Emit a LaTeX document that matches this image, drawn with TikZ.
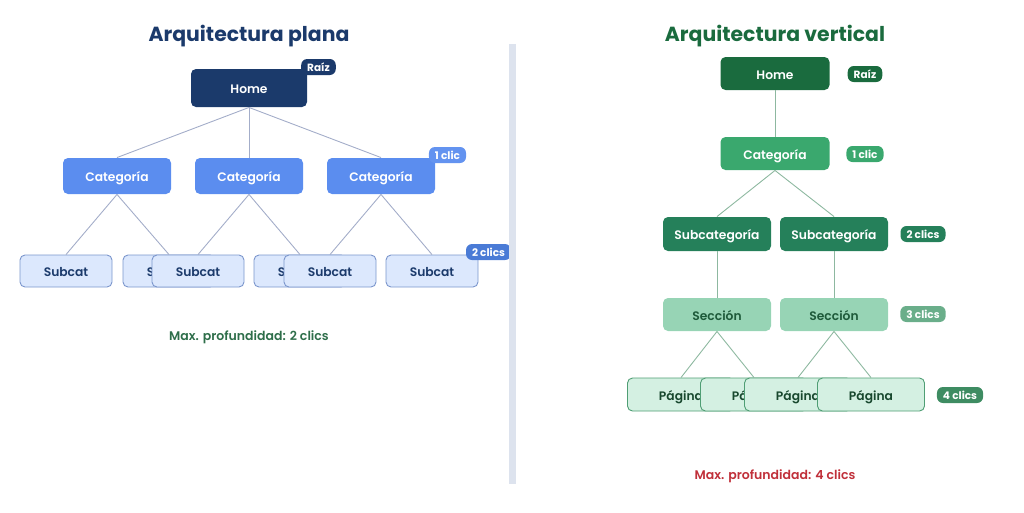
\documentclass[tikz,border=0pt]{standalone}
\usepackage{fontspec}
\setmainfont{Poppins}
\newfontfamily\medfont{Poppins SemiBold}
\usetikzlibrary{positioning}

\definecolor{navy}{HTML}{1B3A6B}
\definecolor{catblue}{HTML}{5B8DEF}
\definecolor{subblue}{HTML}{DCE8FD}
\definecolor{subline}{HTML}{7B96CC}
\definecolor{badgeblue}{HTML}{4A7BD6}
\definecolor{edgeblue}{HTML}{A3ADC9}
\definecolor{homegreen}{HTML}{1A6B3E}
\definecolor{catgreen}{HTML}{3AA86E}
\definecolor{subgreen}{HTML}{25805A}
\definecolor{secgreen}{HTML}{97D4B5}
\definecolor{sectext}{HTML}{1E5A3A}
\definecolor{secbadge}{HTML}{6AAE8A}
\definecolor{paggreen}{HTML}{D4F0E2}
\definecolor{pagline}{HTML}{4F9E74}
\definecolor{pagbadge}{HTML}{3E8C62}
\definecolor{edgegreen}{HTML}{8DB8A0}
\definecolor{notegreen}{HTML}{2E6E4A}
\definecolor{notered}{HTML}{C0303A}
\definecolor{divider}{HTML}{DDE3EE}

\tikzset{
    box/.style={rounded corners=5pt, inner sep=0pt, minimum width=108pt, minimum height=34pt,
        line width=0.9pt, text height=11pt, text depth=0pt, font=\medfont\fontsize{12.3}{14}\selectfont},
    badge/.style={rounded corners=6pt, inner xsep=6pt, inner ysep=0pt, minimum height=16pt,
        text height=9pt, text depth=0pt, text=white, font=\bfseries\fontsize{10.5}{12}\selectfont},
    heading/.style={font=\bfseries\fontsize{20.4}{24}\selectfont},
    note/.style={font=\medfont\fontsize{12.5}{14}\selectfont},
    link/.style={line width=0.9pt}
}

\begin{document}
\begin{tikzpicture}[x=1pt, y=-1pt]
    \useasboundingbox (0, 0) rectangle (1024, 512);

    % 1. Arquitectura plana
    \node[heading, text=navy] (ltitle) at (249, 36) {Arquitectura plana};

    % Home y categorias
    \node[box, fill=navy, text=white, minimum width=116pt, minimum height=38pt] (lhome) at (249, 88) {Home};
    \node[badge, fill=navy] (lraiz) at (318.5, 67) {Raíz};
    \node[box, fill=catblue, text=white, minimum height=36pt] (lcat1) at (117, 176) {Categoría};
    \node[box, fill=catblue, text=white, minimum height=36pt] (lcat2) at (249, 176) {Categoría};
    \node[box, fill=catblue, text=white, minimum height=36pt] (lcat3) at (381, 176) {Categoría};
    \node[badge, fill=catblue!95!white] (lclic1) at (447.5, 155) {1 clic};

    % Subcategorias (se solapan)
    \foreach \i/\x in {1/66, 2/169, 3/198, 4/300, 5/330, 6/432}
        \node[box, fill=subblue, draw=subline, text=navy, minimum width=92pt, minimum height=32pt] (lsub\i) at (\x, 271) {Subcat};
    \node[badge, fill=badgeblue] (lclic2) at (488.5, 252) {2 clics};

    % Conexiones
    \draw[link, edgeblue] (lhome.south) -- (lcat1.north);
    \draw[link, edgeblue] (lhome.south) -- (lcat2.north);
    \draw[link, edgeblue] (lhome.south) -- (lcat3.north);
    \draw[link, edgeblue] (lcat1.south) -- (lsub1.north);
    \draw[link, edgeblue] (lcat1.south) -- (lsub2.north);
    \draw[link, edgeblue] (lcat2.south) -- (lsub3.north);
    \draw[link, edgeblue] (lcat2.south) -- (lsub4.north);
    \draw[link, edgeblue] (lcat3.south) -- (lsub5.north);
    \draw[link, edgeblue] (lcat3.south) -- (lsub6.north);

    \node[note, text=notegreen] (lnote) at (249, 337) {Max. profundidad: 2 clics};

    % 2. Separador
    \fill[divider] (509, 44) rectangle (516, 484);

    % 3. Arquitectura vertical
    \node[heading, text=homegreen] (rtitle) at (775, 36) {Arquitectura vertical};

    \node[box, fill=homegreen, text=white, minimum width=109pt, minimum height=33pt] (rhome) at (775, 73.5) {Home};
    \node[badge, fill=homegreen] (rraiz) at (865, 74) {Raíz};
    \node[box, fill=catgreen, text=white, minimum width=109pt, minimum height=33pt] (rcat) at (775, 153.5) {Categoría};
    \node[badge, fill=catgreen] (rclic1) at (865, 154) {1 clic};

    \node[box, fill=subgreen, text=white] (rsub1) at (717, 234) {Subcategoría};
    \node[box, fill=subgreen, text=white] (rsub2) at (834, 234) {Subcategoría};
    \node[badge, fill=subgreen] (rclic2) at (923, 234) {2 clics};

    \node[box, fill=secgreen, text=sectext, minimum height=33pt] (rsec1) at (717, 314.5) {Sección};
    \node[box, fill=secgreen, text=sectext, minimum height=33pt] (rsec2) at (834, 314.5) {Sección};
    \node[badge, fill=secbadge] (rclic3) at (923, 314) {3 clics};

    % Paginas (se solapan)
    \foreach \i/\x in {1/681, 2/754, 3/798, 4/871}
        \node[box, fill=paggreen, draw=pagline, text=sectext!80!black, minimum width=107pt, minimum height=33pt] (rpag\i) at (\x, 394.5) {Página};
    \node[badge, fill=pagbadge] (rclic4) at (960, 395) {4 clics};

    % Conexiones
    \draw[link, edgegreen] (rhome.south) -- (rcat.north);
    \draw[link, edgegreen] (rcat.south) -- (rsub1.north);
    \draw[link, edgegreen] (rcat.south) -- (rsub2.north);
    \draw[link, edgegreen] (rsub1.south) -- (rsec1.north);
    \draw[link, edgegreen] (rsub2.south) -- (rsec2.north);
    \draw[link, edgegreen] (rsec1.south) -- (rpag1.north);
    \draw[link, edgegreen] (rsec1.south) -- (rpag2.north);
    \draw[link, edgegreen] (rsec2.south) -- (rpag3.north);
    \draw[link, edgegreen] (rsec2.south) -- (rpag4.north);

    \node[note, text=notered] (rnote) at (775, 476) {Max. profundidad: 4 clics};

\end{tikzpicture}
\end{document}
